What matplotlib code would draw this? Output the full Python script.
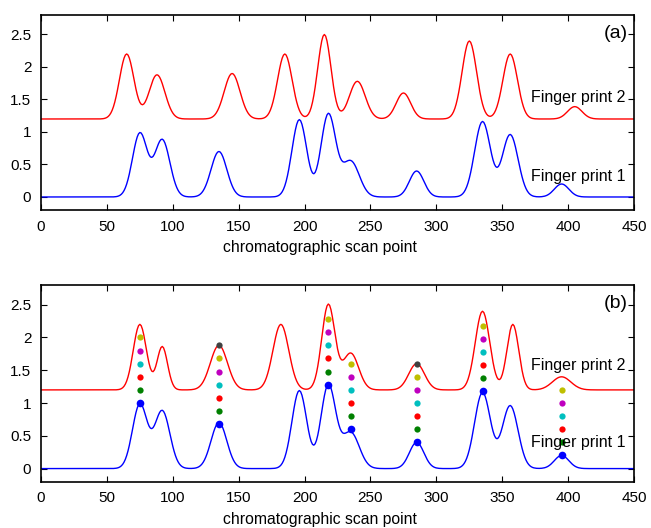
import numpy as np
import matplotlib.pyplot as plt

plt.rcParams['font.family'] = ['Liberation Sans', 'DejaVu Sans']

# scan points
x = np.arange(0, 451)

# peak tables: centre, height, width (sigma)
fp1_pos = [75, 92, 135, 196, 218, 235, 285, 335, 356, 395]
fp1_hgt = [0.98, 0.88, 0.70, 1.19, 1.27, 0.55, 0.40, 1.16, 0.96, 0.20]
fp1_wid = [5.6, 5.8, 6.0, 5.6, 5.6, 6.5, 5.5, 6.0, 6.0, 5.5]

fp2_pos = [65, 88, 145, 185, 215, 240, 275, 325, 356, 405]
fp2_hgt = [1.00, 0.68, 0.70, 1.00, 1.30, 0.58, 0.40, 1.20, 1.00, 0.19]
fp2_wid = [5.5, 6.0, 6.0, 5.5, 5.0, 6.0, 5.5, 5.5, 5.5, 5.5]

# fingerprint 2 after alignment to fingerprint 1
fp2w_pos = [75, 92, 135, 182, 218, 235, 285, 335, 358, 395]
fp2w_hgt = [1.00, 0.66, 0.68, 1.00, 1.30, 0.56, 0.40, 1.20, 1.00, 0.20]
fp2w_wid = [5.0, 4.0, 6.5, 6.0, 5.0, 6.0, 6.0, 5.5, 4.5, 7.0]

offset = 1.2

# matched peaks and dot path between the two fingerprints
match_x = [75, 135, 218, 235, 285, 335, 395]
match_base = [1.0, 0.68, 1.28, 0.60, 0.40, 1.18, 0.20]
match_ndots = [6, 7, 6, 6, 7, 6, 6]
dot_step = 0.2
dot_colors = [(0, 0, 1), (0, 0.5, 0), (1, 0, 0), (0, 0.75, 0.75),
              (0.75, 0, 0.75), (0.75, 0.75, 0), (0.25, 0.25, 0.25)]


def chrom(pos, hgt, wid):
    y = np.zeros(len(x))
    for c, h, w in zip(pos, hgt, wid):
        y = y + h * np.exp(-0.5 * ((x - c) / w) ** 2)
    return y


fp1 = chrom(fp1_pos, fp1_hgt, fp1_wid)
fp2 = chrom(fp2_pos, fp2_hgt, fp2_wid) + offset
fp2w = chrom(fp2w_pos, fp2w_hgt, fp2w_wid) + offset

fig = plt.figure(figsize=(6.51, 5.28), dpi=100)
ax1 = fig.add_axes([0.063, 0.6023, 0.911, 0.3693])
ax2 = fig.add_axes([0.063, 0.0877, 0.911, 0.3725])


def style(ax, tag, lab_y):
    ax.set_xlim(0, 450)
    ax.set_ylim(-0.2, 2.8)
    ax.set_xticks(np.arange(0, 451, 50))
    ax.set_yticks([0, 0.5, 1, 1.5, 2, 2.5])
    ax.set_yticklabels(['0', '0.5', '1', '1.5', '2', '2.5'])
    ax.tick_params(direction='in', top=True, right=True, length=4,
                   width=0.8, labelsize=11, pad=7)
    for s in ax.spines.values():
        s.set_linewidth(1.2)
    ax.set_xlabel('chromatographic scan point', fontsize=11.3, va='baseline')
    ax.xaxis.set_label_coords(0.471, -0.216)
    ax.text(445, 2.52, tag, fontsize=14, ha='right', va='center')
    ax.text(372, lab_y[0], 'Finger print 2', fontsize=11.5, va='center')
    ax.text(372, lab_y[1], 'Finger print 1', fontsize=11.5, va='center')


ax1.plot(x, fp2, color='r', lw=1.0)
ax1.plot(x, fp1, color='b', lw=1.0)
style(ax1, '(a)', (1.53, 0.31))

ax2.plot(x, fp2w, color='r', lw=1.0)
ax2.plot(x, fp1, color='b', lw=1.0)
for mx, mb, nd in zip(match_x, match_base, match_ndots):
    for k in range(nd):
        ax2.plot(mx, mb + k * dot_step, 'o', color=dot_colors[k],
                 markersize=5.5 if k == 0 else 4.5, markeredgewidth=0)
style(ax2, '(b)', (1.57, 0.40))

plt.savefig('out.png', dpi=100)
